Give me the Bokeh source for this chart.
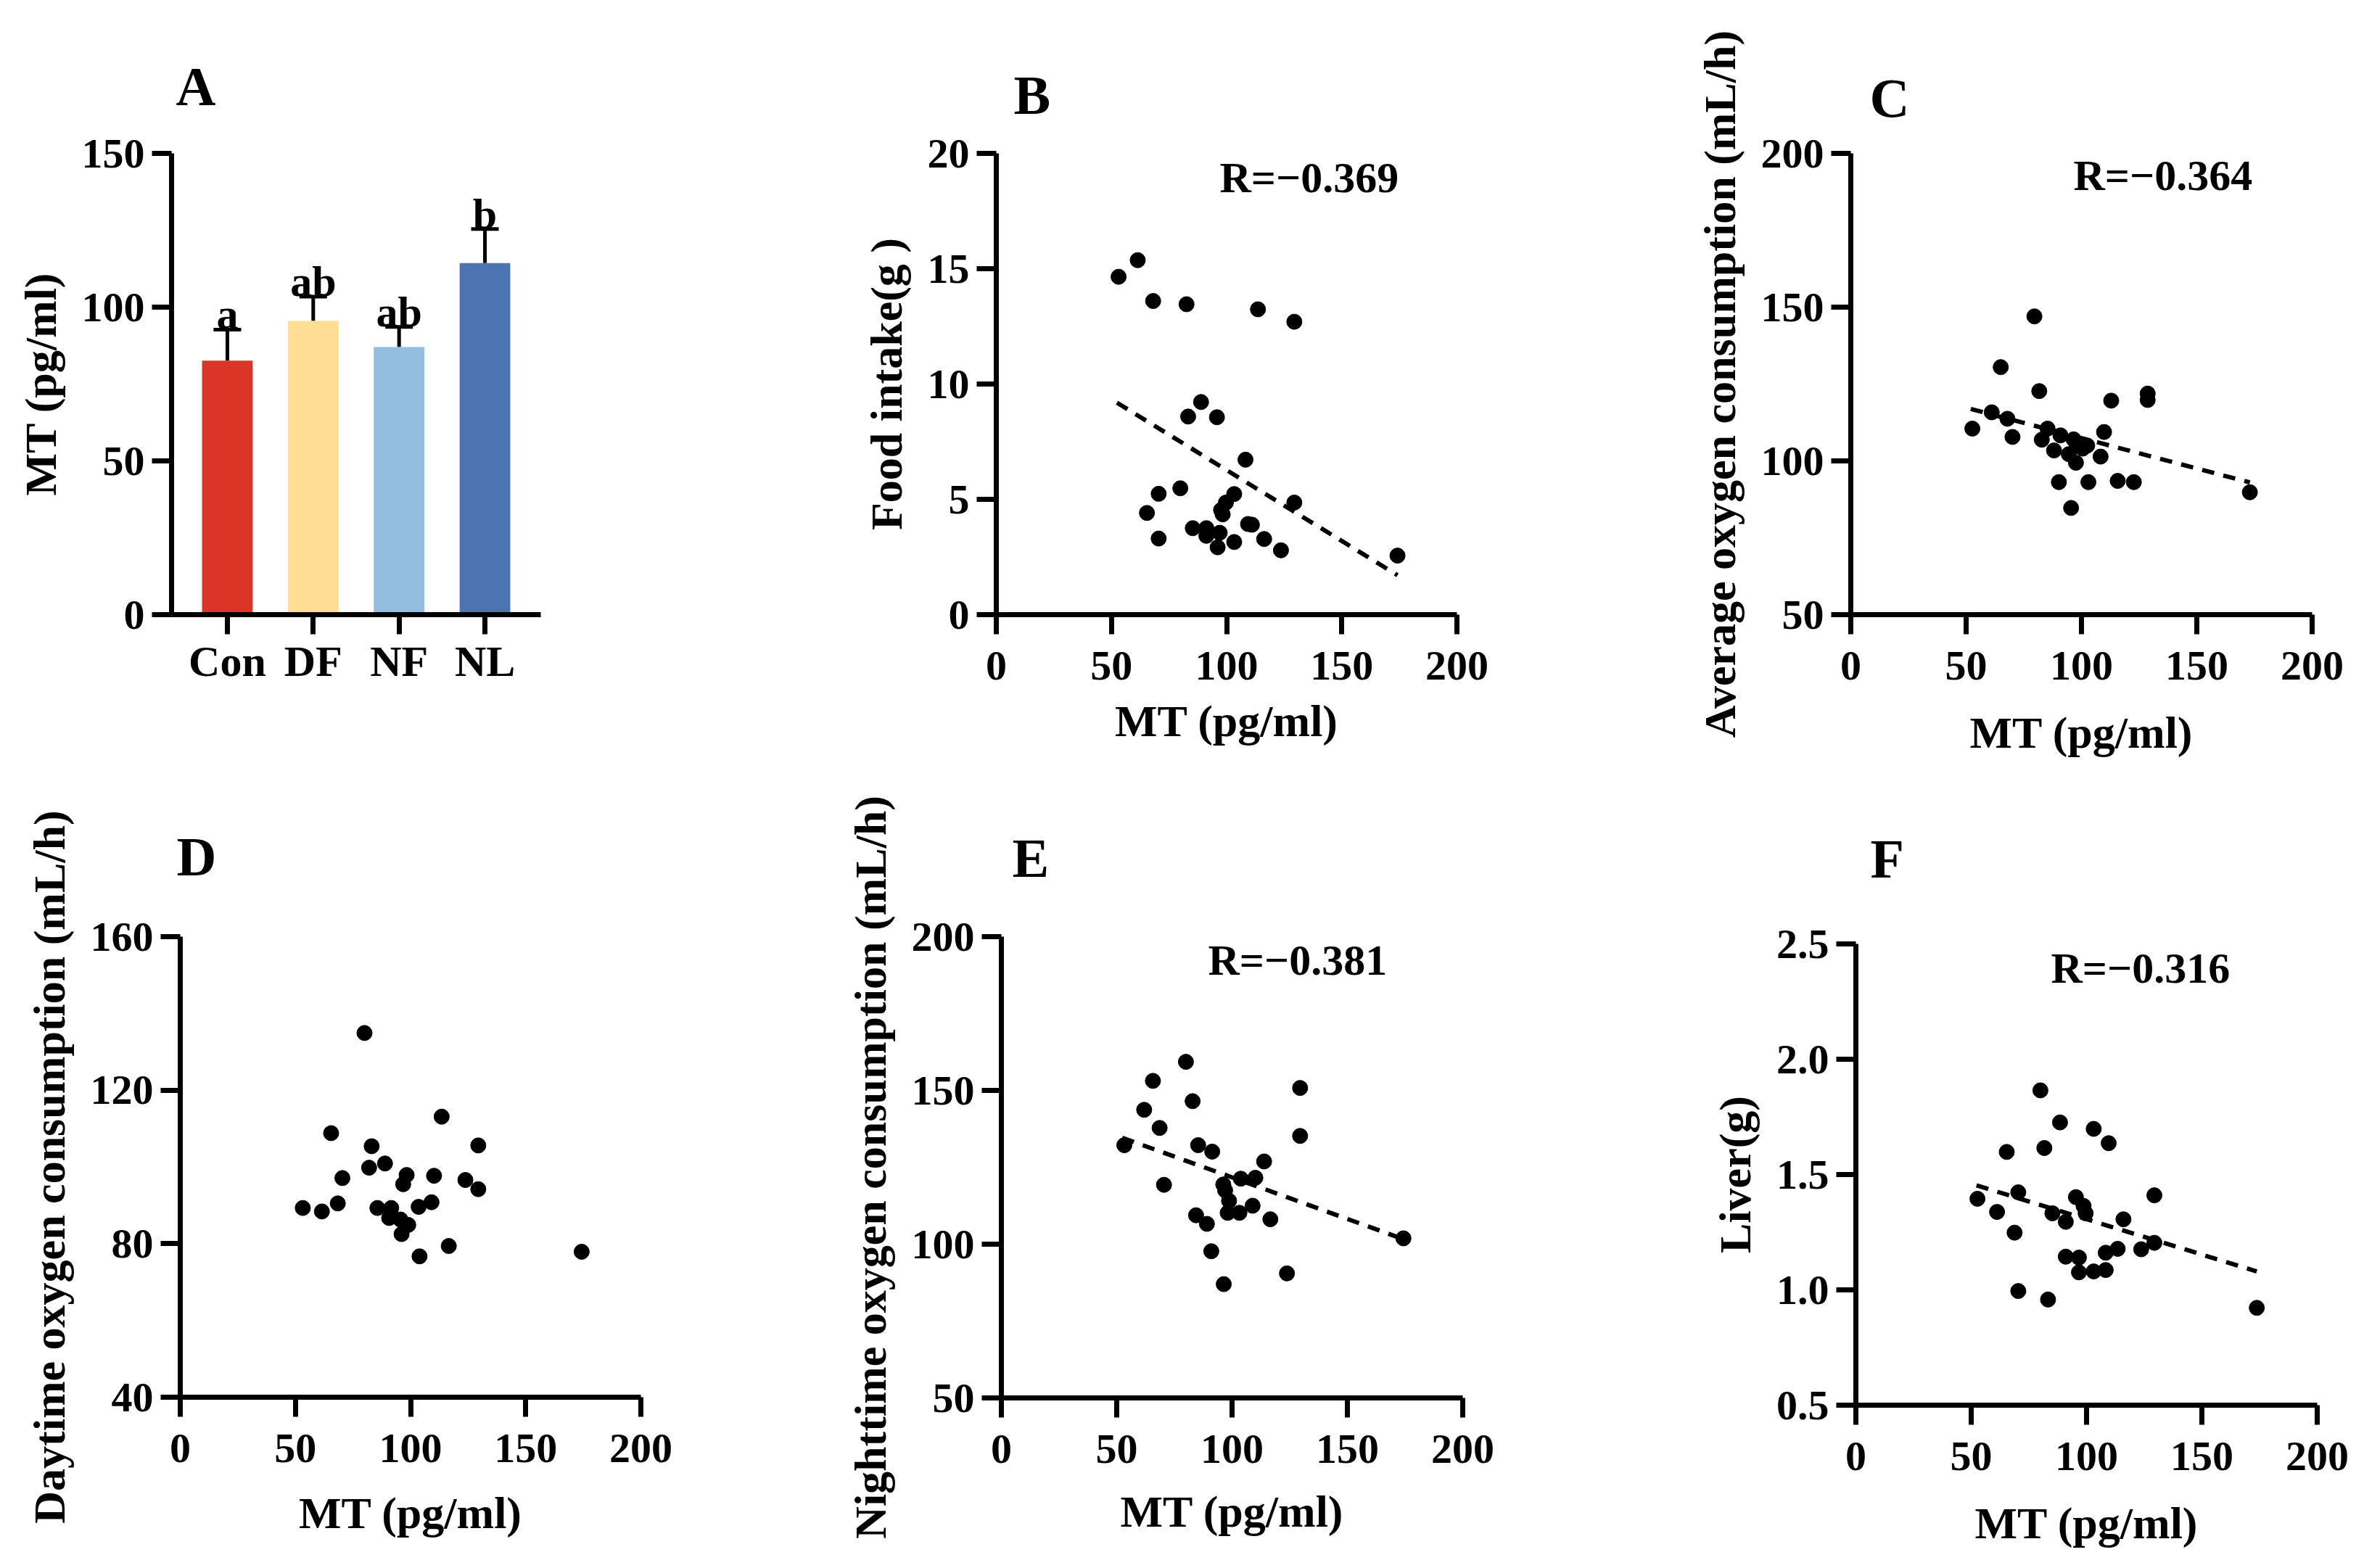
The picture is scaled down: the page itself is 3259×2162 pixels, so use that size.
from bokeh.plotting import figure
from bokeh.models import (ColumnDataSource, FactorRange, Range1d, FixedTicker,
                          Whisker, TeeHead, Label, LabelSet, PrintfTickFormatter, Title)
from bokeh.layouts import row, column
from bokeh.embed import file_html
from bokeh.resources import INLINE

# ---------------- data ----------------
groups = ["Con", "DF", "NF", "NL"]
mt_mean = [82.6, 95.5, 87.0, 114.3]
mt_sem = [10.1, 7.9, 6.6, 11.1]
sig_letters = ["a", "ab", "ab", "b"]
bar_colors = ["#DC3426", "#FDDE93", "#92BDDF", "#4B74B0"]

# B: food intake vs MT
b_mt = [53.1, 61.4, 68.1, 82.6, 113.6, 129.4, 88.9, 83.3, 95.8, 108.2, 70.5, 79.9,
        65.4, 103.3, 99.7, 97.6, 98.3, 129.4, 109.3, 111.0, 85.3, 91.2, 91.2, 97.0,
        70.5, 103.3, 96.1, 116.3, 123.6, 174.2]
b_food = [14.65, 15.37, 13.6, 13.46, 13.24, 12.7, 9.22, 8.59, 8.56, 6.72, 5.24, 5.48,
          4.41, 5.23, 4.86, 4.54, 4.35, 4.86, 3.93, 3.90, 3.75, 3.75, 3.42, 3.55,
          3.30, 3.15, 2.92, 3.28, 2.79, 2.56]
b_fit_x = [52.4, 174.2]
b_fit_y = [9.19, 1.71]
b_r = "R=\u22120.369"

# C: average oxygen consumption vs MT
c_mt = [79.6, 65.0, 81.7, 112.9, 128.7, 128.7, 61.1, 67.9, 52.7, 85.3, 70.1, 82.8,
        90.9, 96.6, 109.8, 102.5, 88.1, 94.5, 97.6, 108.3, 90.2, 103.0, 115.7, 122.7,
        95.5, 173.0, 98.0, 100.5]
c_vo2 = [147.0, 130.5, 122.7, 119.6, 121.9, 119.8, 115.8, 113.7, 110.5, 110.5, 107.8, 106.9,
         108.3, 107.0, 109.4, 105.0, 103.4, 102.2, 99.4, 101.4, 93.1, 93.1, 93.5, 93.1,
         84.7, 89.8, 105.0, 104.0]
c_fit_x = [52.0, 173.0]
c_fit_y = [116.9, 93.0]
c_r = "R=\u22120.364"

# D: daytime oxygen consumption vs MT
d_mt = [80.0, 113.5, 65.5, 129.4, 83.1, 88.9, 82.0, 98.3, 70.4, 110.2, 123.8, 96.8,
        129.4, 53.2, 61.5, 68.4, 85.6, 91.6, 103.5, 109.1, 90.7, 95.6, 99.0, 96.1,
        116.6, 103.9, 174.3]
d_vo2 = [134.9, 113.1, 108.8, 105.6, 105.4, 100.9, 99.8, 97.9, 97.1, 97.7, 96.6, 95.5,
         94.2, 89.3, 88.4, 90.5, 89.3, 89.3, 89.6, 90.8, 86.7, 86.3, 84.9, 82.5,
         79.4, 76.7, 77.9]

# E: nighttime oxygen consumption vs MT
e_mt = [80.0, 65.7, 129.5, 82.9, 61.9, 68.6, 129.5, 53.3, 85.3, 91.4, 113.9, 110.1,
        103.8, 96.2, 70.5, 98.7, 108.9, 98.1, 103.2, 84.4, 116.6, 89.1, 91.0, 123.8,
        96.4, 174.3, 97.0]
e_vo2 = [159.3, 153.1, 150.8, 146.5, 143.7, 137.8, 135.2, 132.2, 132.2, 130.1, 126.9, 121.6,
         121.3, 119.4, 119.3, 114.1, 112.5, 110.2, 110.2, 109.4, 108.1, 106.6, 97.7, 90.5,
         87.0, 101.9, 117.5]
e_fit_x = [52.4, 173.3]
e_fit_y = [134.6, 101.9]
e_r = "R=\u22120.381"

# F: liver mass vs MT
f_mt = [80.0, 88.5, 103.1, 109.6, 65.4, 81.7, 52.7, 129.4, 70.4, 61.2, 95.4, 98.7,
        99.6, 85.2, 91.0, 116.0, 68.8, 129.4, 113.5, 108.3, 123.7, 91.0, 96.7, 96.7,
        103.1, 108.3, 70.4, 83.3, 173.8]
f_liver = [1.865, 1.726, 1.698, 1.636, 1.598, 1.615, 1.395, 1.410, 1.423, 1.338, 1.402, 1.364,
           1.332, 1.332, 1.295, 1.306, 1.248, 1.204, 1.178, 1.161, 1.176, 1.144, 1.140, 1.076,
           1.080, 1.086, 0.995, 0.958, 0.922]
f_fit_x = [52.3, 173.8]
f_fit_y = [1.453, 1.080]
f_r = "R=\u22120.316"

mt_ticks = [0, 50, 100, 150, 200]

# ---------------- style ----------------
FONT = "Liberation Serif"
TICK_FS = "58px"
TITLE_FS = "62px"
LETTER_FS = "76px"
R_FS = "60px"
AXW = 7
TICK_LEN = 27


def style_axes(p, xlabel, ylabel, x_std=24, xt_std=30):
    p.grid.visible = False
    p.outline_line_color = None
    p.background_fill_color = "white"
    p.border_fill_color = None
    for ax in p.axis:
        ax.axis_line_width = AXW
        ax.axis_line_color = "black"
        ax.major_tick_line_width = AXW
        ax.major_tick_line_color = "black"
        ax.major_tick_out = TICK_LEN
        ax.major_tick_in = 0
        ax.minor_tick_line_color = None
        ax.major_label_text_font = FONT
        ax.major_label_text_font_style = "bold"
        ax.major_label_text_font_size = TICK_FS
        ax.major_label_text_color = "black"
        ax.axis_label_text_font = FONT
        ax.axis_label_text_font_style = "bold"
        ax.axis_label_text_font_size = TITLE_FS
        ax.axis_label_text_color = "black"
    p.yaxis.axis_label_standoff = 20
    p.xaxis.axis_label_standoff = xt_std
    p.xaxis.major_label_standoff = x_std
    p.yaxis.major_label_standoff = 10
    p.xaxis.axis_label = xlabel
    p.yaxis.axis_label = ylabel


def set_letter(p, text, offset, standoff):
    p.title = Title(text=text, align="left", offset=offset, standoff=standoff,
                    text_font=FONT, text_font_style="bold", text_font_size=LETTER_FS,
                    text_color="black")


def add_r(p, text, x, y):
    p.add_layout(Label(x=x, y=y, x_units="screen", y_units="screen", text=text,
                       text_font=FONT, text_font_style="bold", text_font_size=R_FS,
                       text_baseline="alphabetic", text_align="left", text_color="black"))


def make_fig(x_range, y_range, fw, fh, left, right, top, bottom):
    return figure(x_range=x_range, y_range=y_range, frame_width=fw, frame_height=fh,
                  min_border_left=left, min_border_right=right,
                  min_border_top=top, min_border_bottom=bottom,
                  output_backend="svg", toolbar_location=None)


# ---------------- panel A ----------------
srcA = ColumnDataSource(dict(g=groups, m=mt_mean,
                             up=[m + s for m, s in zip(mt_mean, mt_sem)],
                             lab=sig_letters, c=bar_colors))
pA = make_fig(FactorRange(*groups, range_padding=0.15, range_padding_units="absolute"),
              Range1d(0, 150), 509, 636, 236, 100, 211, 300)
pA.vbar(x="g", top="m", bottom=0, width=0.59, fill_color="c", line_color=None, source=srcA)
pA.add_layout(Whisker(base="g", upper="up", lower="m", source=srcA, line_width=5,
                      line_color="black",
                      upper_head=TeeHead(size=38, line_width=5, line_color="black"),
                      lower_head=None))
pA.add_layout(LabelSet(x="g", y="up", text="lab", source=srcA, text_font=FONT,
                       text_font_style="bold", text_font_size="60px",
                       text_align="center", text_baseline="alphabetic", y_offset=1,
                       text_color="black"))
style_axes(pA, None, "MT (pg/ml)", x_std=4)
pA.yaxis.ticker = FixedTicker(ticks=[0, 50, 100, 150])
pA.xaxis.major_label_text_font_size = "60px"
set_letter(pA, "A", 6, 101)


def scatter_panel(xs, ys, yr, yticks, ylabel, fw, fh, borders, fit=None, rtext=None,
                  rpos=None, letter=None, lpos=None, fmt=None, xt_std=30):
    p = make_fig(Range1d(0, 200), Range1d(*yr), fw, fh, *borders)
    if fit is not None:
        p.line(fit[0], fit[1], line_color="black", line_width=6, line_dash="17 13")
    p.scatter(xs, ys, size=21, fill_color="black", line_color="black")
    style_axes(p, "MT (pg/ml)", ylabel, xt_std=xt_std)
    p.xaxis.ticker = FixedTicker(ticks=mt_ticks)
    p.yaxis.ticker = FixedTicker(ticks=yticks)
    if fmt:
        p.yaxis.formatter = PrintfTickFormatter(format=fmt)
    if rtext:
        add_r(p, rtext, rpos[0], rpos[1] + 24)
    set_letter(p, letter, *lpos)
    return p


pB = scatter_panel(b_mt, b_food, (0, 20), [0, 5, 10, 15, 20], "Food intake(g )",
                   635, 636, (528, 100, 211, 300), fit=(b_fit_x, b_fit_y),
                   rtext=b_r, rpos=(308, 579), letter="B", lpos=(24, 77), xt_std=20)
pC = scatter_panel(c_mt, c_vo2, (50, 200), [50, 100, 150, 200],
                   "Average oxygen consumption (mL/h)",
                   636, 636, (443, 55, 211, 300), fit=(c_fit_x, c_fit_y),
                   rtext=c_r, rpos=(307, 582), letter="C", lpos=(26, 69), xt_std=36)
pD = scatter_panel(d_mt, d_vo2, (40, 160), [40, 80, 120, 160],
                   "Daytime oxygen consumption (mL/h)",
                   635, 635, (248, 100, 260, 260), letter="D", lpos=(-5, 137), xt_std=33)
pE = scatter_panel(e_mt, e_vo2, (50, 200), [50, 100, 150, 200],
                   "Nighttime oxygen consumption (mL/h)",
                   636, 636, (397, 100, 260, 260), fit=(e_fit_x, e_fit_y),
                   rtext=e_r, rpos=(285, 580), letter="E", lpos=(15, 133), xt_std=30)
pF = scatter_panel(f_mt, f_liver, (0.5, 2.5), [0.5, 1.0, 1.5, 2.0, 2.5], "Liver(g)",
                   636, 636, (442, 52, 260, 260), fit=(f_fit_x, f_fit_y),
                   rtext=f_r, rpos=(269, 579), letter="F", lpos=(20, 151), fmt="%.1f",
                   xt_std=36)
pF.margin = (10, 0, 0, 0)

row1 = row(pA, pB, pC)
row2 = row(pD, pE, pF, margin=(-116, 0, 0, 0))
layout = column(row1, row2)

open("out.html", "w").write(file_html(layout, INLINE))
